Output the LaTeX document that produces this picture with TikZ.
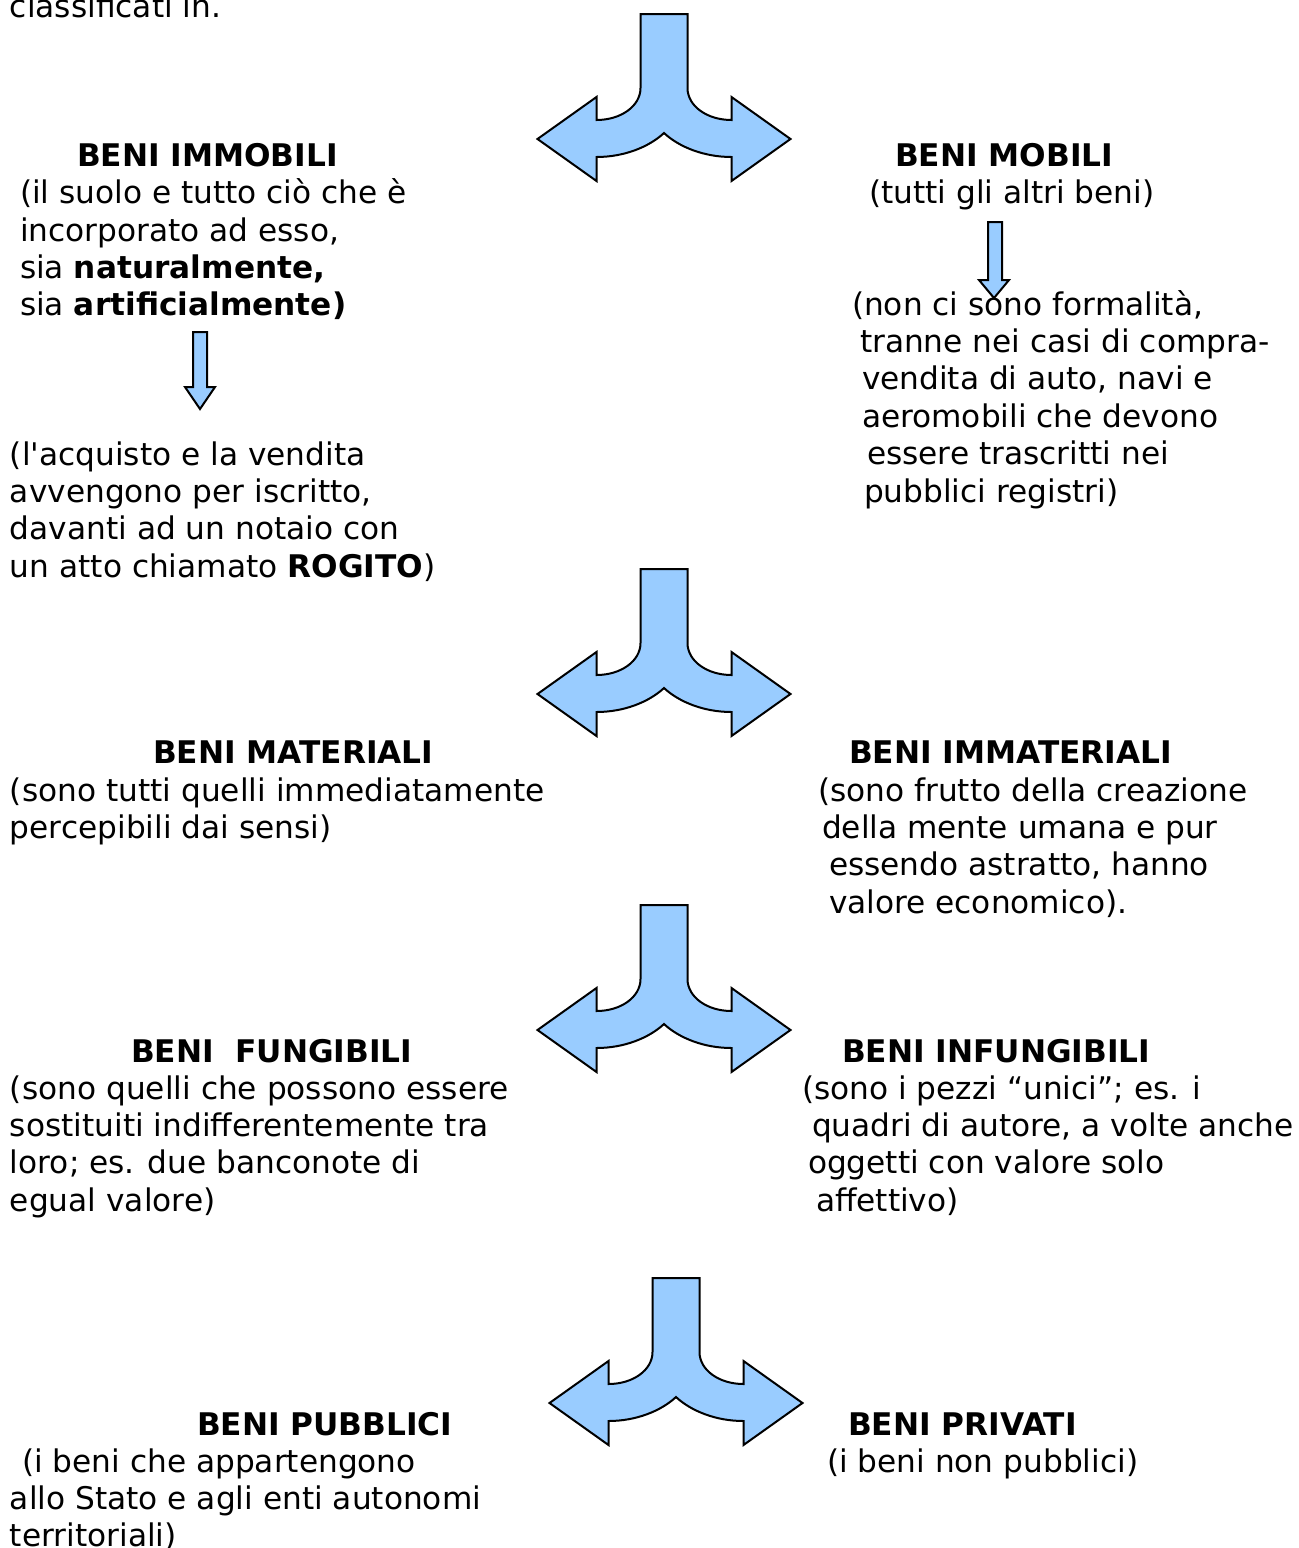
\documentclass[tikz,border=0pt]{standalone}
\usepackage{fontspec}
\setmainfont{DejaVu Sans}[Ligatures=TeXOff]
\definecolor{arrowblue}{HTML}{99CCFF}
\tikzset{
  txt/.style={anchor=base west, inner sep=0pt, outer sep=0pt, font=\fontsize{15.6pt}{18.7pt}\selectfont},
  ttl/.style={txt, font=\fontsize{15.6pt}{18.7pt}\selectfont\bfseries},
  shapefill/.style={fill=arrowblue, draw=black, line width=1pt, line join=miter},
  fork/.pic={
    \draw[shapefill] (-23.5,0) -- (-23.5,74)
      .. controls (-23.5,92) and (-43,106) .. (-67.5,106)
      -- (-67.5,83) -- (-126.5,125) -- (-67.5,167) -- (-67.5,143)
      .. controls (-40,143) and (-15,133) .. (0,119)
      .. controls (15,133) and (40,143) .. (67.5,143)
      -- (67.5,167) -- (126.5,125) -- (67.5,83) -- (67.5,106)
      .. controls (43,106) and (23.5,92) .. (23.5,74)
      -- (23.5,0) -- cycle;
  }
}
\begin{document}
\begin{tikzpicture}[x=0.5pt,y=-0.5pt]
\useasboundingbox (0,0) rectangle (1299,1548);

% fork arrows
\pic at (664,14) {fork};
\pic at (664,569) {fork};
\pic at (664,905) {fork};
\pic at (676,1278) {fork};

% small down arrows
\draw[shapefill] (193,332) -- (193,387) -- (185,387) -- (200,409) -- (215,387) -- (207,387) -- (207,332) -- cycle;
\draw[shapefill] (988,222) -- (988,280) -- (979,280) -- (994,298) -- (1009,280) -- (1002,280) -- (1002,222) -- cycle;

% top
\node[txt] (top) at (10,17) {classificati in.};

% block 1 left
\node[ttl] (immobili) at (77,166) {BENI IMMOBILI};
\node[txt] (imm1) at (20,203.5) {(il suolo e tutto ciò che è};
\node[txt] (imm2) at (20,241) {incorporato ad esso,};
\node[txt] (imm3) at (20,278.4) {sia \textbf{naturalmente,}};
\node[txt] (imm4) at (20,315.8) {sia \textbf{artificialmente)}};

\node[txt] (rog1) at (10,465) {(l'acquisto e la vendita};
\node[txt] (rog2) at (10,502.4) {avvengono per iscritto,};
\node[txt] (rog3) at (10,539.8) {davanti ad un notaio con};
\node[txt] (rog4) at (10,577.2) {un atto chiamato \textbf{ROGITO})};

% block 1 right
\node[ttl] (mobili) at (895,166) {BENI MOBILI};
\node[txt] (mob1) at (869,203.5) {(tutti gli altri beni)};
\node[txt] (mob2) at (852,315) {(non ci sono formalità,};
\node[txt] (mob3) at (860,352.4) {tranne nei casi di compra-};
\node[txt] (mob4) at (862,389.8) {vendita di auto, navi e};
\node[txt] (mob5) at (862,427.2) {aeromobili che devono};
\node[txt] (mob6) at (867,464.6) {essere trascritti nei};
\node[txt] (mob7) at (864,502) {pubblici registri)};

% block 2
\node[ttl] (materiali) at (153,763) {BENI MATERIALI};
\node[txt] (mat1) at (10,801) {(sono tutti quelli immediatamente};
\node[txt] (mat2) at (10,838.4) {percepibili dai sensi)};

\node[ttl] (immateriali) at (849,763) {BENI IMMATERIALI};
\node[txt] (imt1) at (818,801) {(sono frutto della creazione};
\node[txt] (imt2) at (822,838.4) {della mente umana e pur};
\node[txt] (imt3) at (829,875.8) {essendo astratto, hanno};
\node[txt] (imt4) at (829,913.2) {valore economico).};

% block 3
\node[ttl] (fungibili) at (131,1062) {BENI\ \ FUNGIBILI};
\node[txt] (fun1) at (10,1099) {(sono quelli che possono essere};
\node[txt] (fun2) at (10,1136.4) {sostituiti indifferentemente tra};
\node[txt] (fun3) at (10,1173.8) {loro; es. due banconote di};
\node[txt] (fun4) at (10,1211.2) {egual valore)};

\node[ttl] (infungibili) at (842,1062) {BENI INFUNGIBILI};
\node[txt] (inf1) at (802,1099) {(sono i pezzi “unici”; es. i};
\node[txt] (inf2) at (812,1136.4) {quadri di autore, a volte anche};
\node[txt] (inf3) at (808,1173.8) {oggetti con valore solo};
\node[txt] (inf4) at (816,1211.2) {affettivo)};

% block 4
\node[ttl] (pubblici) at (197,1435) {BENI PUBBLICI};
\node[txt] (pub1) at (22,1472) {(i beni che appartengono};
\node[txt] (pub2) at (10,1509.4) {allo Stato e agli enti autonomi};
\node[txt] (pub3) at (10,1546.8) {territoriali)};

\node[ttl] (privati) at (848,1435) {BENI PRIVATI};
\node[txt] (pri1) at (827,1472) {(i beni non pubblici)};
\end{tikzpicture}
\end{document}
